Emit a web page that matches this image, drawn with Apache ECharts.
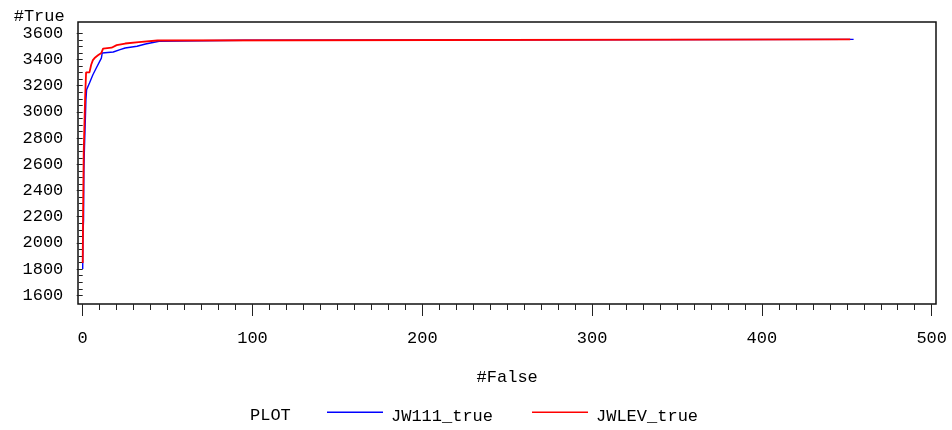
<!DOCTYPE html>
<html>
<head>
<meta charset="utf-8">
<script src="https://cdn.jsdelivr.net/npm/echarts@6/dist/echarts.min.js"></script>
<style>
  html, body { margin: 0; padding: 0; background: #fff; }
  #chart { width: 952px; height: 430px; }
</style>
</head>
<body>
<div id="chart"></div>
<script>
// Cumulative true counts against false counts for two scoring runs
const jw111False = [0, 0.2, 0.5, 0.7, 1, 1.6, 1.9, 2.3, 4, 6, 8, 10, 11, 11.5, 18, 22, 25, 32, 37, 45, 46, 95, 95, 454];
const jw111True  = [1800, 2080, 2175, 2557, 2709, 2961, 3091, 3170, 3221, 3284, 3335, 3386, 3411, 3450, 3457, 3475, 3488, 3501, 3518, 3539, 3547, 3547, 3554, 3554];

const jwlevFalse = [0, 0.2, 0.6, 1.4, 2, 4, 5, 6, 7, 9, 11, 12, 17, 18, 20, 21, 25, 26, 33, 34, 44, 45, 452];
const jwlevTrue  = [1846, 2200, 2700, 3100, 3302, 3302, 3360, 3395, 3411, 3432, 3450, 3483, 3490, 3495, 3510, 3518, 3522, 3528, 3532, 3540, 3545, 3554, 3554];

const seriesNames = ['JW111_true', 'JWLEV_true'];
const seriesColors = ['#0000ff', '#ff0000'];

const xTicks = { min: 0, max: 500, step: 100 };
const yTicks = { min: 1600, max: 3600, step: 200 };

const FONT = '"Liberation Mono", "DejaVu Sans Mono", monospace';

function pairs(xs, ys) {
  return xs.map((x, i) => [x, ys[i]]);
}

const chart = echarts.init(document.getElementById('chart'), null, { renderer: 'canvas' });

chart.setOption({
  animation: false,
  backgroundColor: '#ffffff',
  title: {
    text: 'PLOT',
    left: 245,
    top: 402,
    textStyle: { fontFamily: FONT, fontSize: 17, fontWeight: 'normal', color: '#000' }
  },
  legend: {
    data: seriesNames,
    icon: 'rect',
    left: 322,
    top: 402.7,
    itemWidth: 56,
    itemHeight: 1.5,
    itemGap: 39,
    formatter: '{n|{name}}',
    textStyle: {
      fontFamily: FONT,
      fontSize: 17,
      color: '#000',
      rich: {
        n: { fontFamily: FONT, fontSize: 17, color: '#000', padding: [8, 0, 0, 3] }
      }
    }
  },
  grid: [
    // data area: exactly spans the labelled tick range
    { left: 82.7, right: 20.3, top: 33.3, bottom: 134.7, containLabel: false },
    // outer frame around the plot
    { left: 78, right: 16, top: 22, bottom: 126, show: true, borderColor: '#111', borderWidth: 1.5, backgroundColor: 'transparent' }
  ],
  xAxis: [
    {
      type: 'value',
      gridIndex: 0,
      min: xTicks.min,
      max: xTicks.max,
      interval: xTicks.step,
      offset: 8.7,
      name: '#False',
      nameLocation: 'middle',
      nameGap: 65,
      nameTextStyle: { fontFamily: FONT, fontSize: 17, color: '#000' },
      axisLine: { show: false },
      axisTick: { show: true, inside: false, length: 12, lineStyle: { color: '#222', width: 1 } },
      minorTick: { show: true, splitNumber: 10, length: 6, lineStyle: { color: '#222', width: 1 } },
      splitLine: { show: false },
      axisLabel: { margin: 26, fontFamily: FONT, fontSize: 17, color: '#000' }
    },
    { type: 'value', gridIndex: 1, show: false, min: 0, max: 1, splitLine: { show: false } }
  ],
  yAxis: [
    {
      type: 'value',
      gridIndex: 0,
      min: yTicks.min,
      max: yTicks.max,
      interval: yTicks.step,
      offset: 4.7,
      name: '#True',
      nameLocation: 'end',
      nameGap: 7,
      nameTextStyle: { fontFamily: FONT, fontSize: 17, color: '#000', align: 'right', padding: [0, 18, 0, 0] },
      axisLine: { show: false },
      axisTick: { show: true, inside: false, length: 6, lineStyle: { color: '#222', width: 1 } },
      minorTick: { show: true, splitNumber: 4, length: 4, lineStyle: { color: '#222', width: 1 } },
      splitLine: { show: false },
      axisLabel: {
        margin: 14.7,
        fontFamily: FONT,
        fontSize: 17,
        color: '#000',
        formatter: (v) => String(v)
      }
    },
    { type: 'value', gridIndex: 1, show: false, min: 0, max: 1, splitLine: { show: false } }
  ],
  series: [
    {
      name: seriesNames[0],
      type: 'line',
      xAxisIndex: 0,
      yAxisIndex: 0,
      data: pairs(jw111False, jw111True),
      symbol: 'none',
      showSymbol: false,
      color: seriesColors[0],
      lineStyle: { color: seriesColors[0], width: 1.4 },
      z: 2
    },
    {
      name: seriesNames[1],
      type: 'line',
      xAxisIndex: 0,
      yAxisIndex: 0,
      data: pairs(jwlevFalse, jwlevTrue),
      symbol: 'none',
      showSymbol: false,
      color: seriesColors[1],
      lineStyle: { color: seriesColors[1], width: 1.8 },
      z: 3
    }
  ]
});
</script>
</body>
</html>
